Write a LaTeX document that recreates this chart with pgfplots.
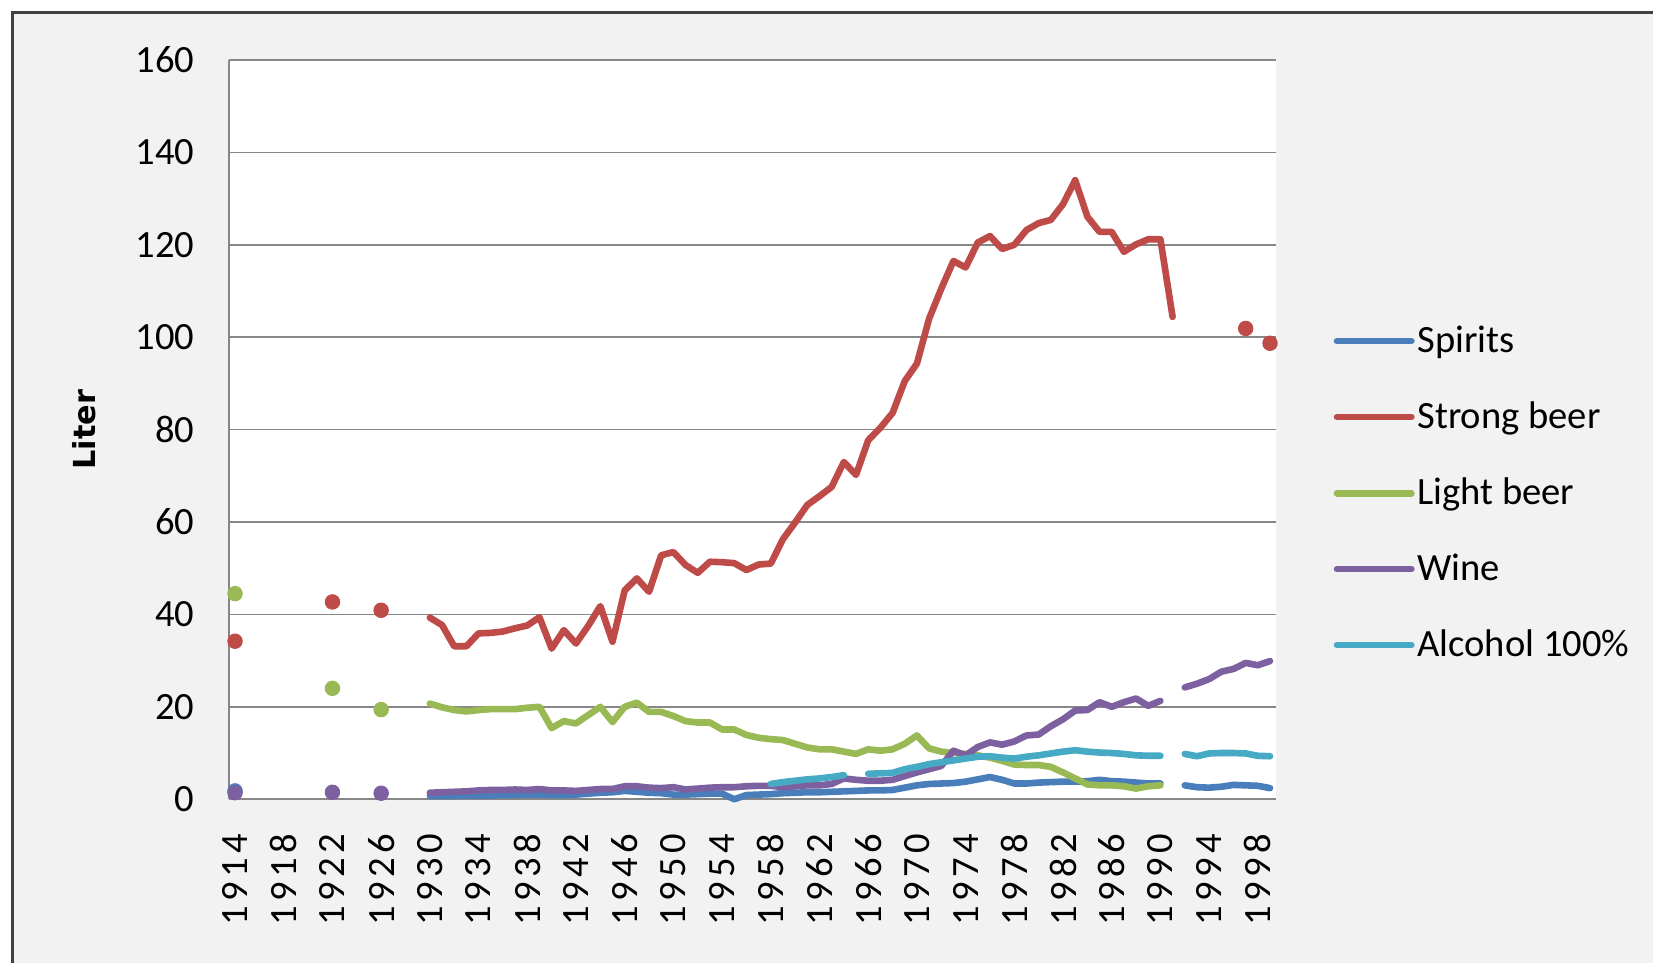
\documentclass[border=0pt]{standalone}
\usepackage{fontspec}
\setmainfont{Carlito}
\newfontfamily\labelfont{DejaVu Sans}
\newfontfamily\xfont[LetterSpace=12]{Carlito}
\usepackage{pgfplots}
\pgfplotsset{compat=1.18}
\definecolor{cSpirits}{HTML}{4A7EBB}
\definecolor{cStrong}{HTML}{BE4B48}
\definecolor{cLight}{HTML}{98B954}
\definecolor{cWine}{HTML}{7D60A0}
\definecolor{cAlc}{HTML}{46AAC5}
\definecolor{bgc}{HTML}{F2F2F2}
\definecolor{gridc}{HTML}{878787}
\definecolor{framec}{HTML}{404040}
\pgfplotsset{ser/.style={#1, no marks, line width=2.4pt, line join=round, line cap=round},
  dots/.style={#1, only marks, mark=*, mark size=2.6pt, forget plot}}
\begin{document}
\begin{tikzpicture}
\useasboundingbox (0,0) rectangle (600pt,349.6pt);
\fill[white] (0,0) rectangle (600pt,349.6pt);
\fill[bgc] (4.4pt,0) rectangle (600pt,345pt);
\draw[framec, line width=1.1pt] (4.4pt,0) -- (4.4pt,345pt) -- (600pt,345pt);
\begin{axis}[
  at={(83.1pt,59.5pt)}, anchor=south west,
  scale only axis, width=380.1pt, height=268.3pt,
  xmin=1913.5, xmax=1999.5, ymin=0, ymax=160,
  xtick={1914,1918,...,1998}, ytick={0,20,...,160},
  axis background/.style={fill=white},
  axis x line*=bottom, axis y line*=left,
  axis line style={gridc, line width=0.6pt},
  ymajorgrids, grid style={gridc, line width=0.6pt},
  major tick length=0pt,
  /pgf/number format/assume math mode=true,
  /pgf/number format/1000 sep={},
  tick label style={font=\fontsize{14}{16}\selectfont},
  xticklabel style={rotate=90, anchor=east, font=\xfont\fontsize{14}{16}\selectfont},
  xticklabel shift=9pt,
  yticklabel style={xshift=-9pt},
  ylabel={Liter},
  ylabel style={font=\labelfont\bfseries\fontsize{11}{12}\selectfont, at={(axis description cs:-0.1384,0.5)}, anchor=center},
  unbounded coords=jump,
  legend style={at={(1.055,0.414)}, anchor=west, draw=none, fill=none, font=\fontsize{14}{16}\selectfont, inner sep=0pt, outer sep=0pt, row sep=14.4pt, nodes={inner sep=1pt}},
  legend cell align=left,
  legend image code/.code={\draw[#1, line width=2.4pt] (0pt,0pt) -- (27pt,0pt);},
  clip=false,
]
% Spirits
\addplot[ser=cSpirits] coordinates {
(1930,0.7)(1931,0.7)(1932,0.7)(1933,0.8)(1934,0.8)(1935,0.8)(1936,0.9)(1937,0.9)(1938,1.0)(1939,1.0)
(1940,0.9)(1941,0.9)(1942,1.0)(1943,1.2)(1944,1.4)(1945,1.5)(1946,1.8)(1947,1.6)(1948,1.4)(1949,1.3)
(1950,1.0)(1951,1.0)(1952,1.1)(1953,1.2)(1954,1.2)(1955,0.0)(1956,0.9)(1957,1.0)(1958,1.1)(1959,1.3)
(1960,1.4)(1961,1.5)(1962,1.5)(1963,1.6)(1964,1.7)(1965,1.8)(1966,1.9)(1967,1.9)(1968,2.0)(1969,2.5)
(1970,3.0)(1971,3.3)(1972,3.4)(1973,3.5)(1974,3.8)(1975,4.3)(1976,4.8)(1977,4.2)(1978,3.4)(1979,3.4)
(1980,3.6)(1981,3.7)(1982,3.8)(1983,3.8)(1984,3.9)(1985,4.2)(1986,3.9)(1987,3.8)(1988,3.6)(1989,3.4)
(1990,3.4)(1991,nan)(1992,3.0)(1993,2.6)(1994,2.5)(1995,2.7)(1996,3.1)(1997,3.0)(1998,2.9)(1999,2.4)
};
\addlegendentry{Spirits}
\addplot[dots=cSpirits] coordinates {(1914,1.8)};
% Strong beer
\addplot[ser=cStrong] coordinates {
(1930,39.3)(1931,37.7)(1932,33.1)(1933,33.1)(1934,35.9)(1935,36.0)(1936,36.3)(1937,37.0)(1938,37.6)(1939,39.4)
(1940,32.6)(1941,36.6)(1942,33.7)(1943,37.5)(1944,41.8)(1945,34.1)(1946,45.2)(1947,47.8)(1948,44.9)(1949,52.8)
(1950,53.5)(1951,50.7)(1952,49.0)(1953,51.4)(1954,51.3)(1955,51.1)(1956,49.6)(1957,50.8)(1958,51.0)(1959,56.3)
(1960,59.9)(1961,63.7)(1962,65.6)(1963,67.6)(1964,73.0)(1965,70.2)(1966,77.7)(1967,80.4)(1968,83.6)(1969,90.5)
(1970,94.3)(1971,104.0)(1972,110.5)(1973,116.5)(1974,115.1)(1975,120.5)(1976,121.9)(1977,119.1)(1978,120.0)(1979,123.2)
(1980,124.7)(1981,125.4)(1982,128.8)(1983,134.0)(1984,126.1)(1985,122.8)(1986,122.8)(1987,118.5)(1988,120.1)(1989,121.2)
(1990,121.2)(1991,104.4)
};
\addlegendentry{Strong beer}
\addplot[dots=cStrong] coordinates {(1914,34.2)(1922,42.7)(1926,40.9)(1997,101.9)(1999,98.7)};
% Light beer
\addplot[ser=cLight] coordinates {
(1930,20.7)(1931,19.9)(1932,19.3)(1933,19.0)(1934,19.3)(1935,19.5)(1936,19.5)(1937,19.5)(1938,19.8)(1939,20.0)
(1940,15.4)(1941,16.9)(1942,16.4)(1943,18.2)(1944,20.0)(1945,16.7)(1946,20.0)(1947,20.9)(1948,18.9)(1949,18.9)
(1950,18.0)(1951,16.9)(1952,16.6)(1953,16.6)(1954,15.1)(1955,15.1)(1956,13.9)(1957,13.3)(1958,13.0)(1959,12.8)
(1960,12.0)(1961,11.2)(1962,10.8)(1963,10.8)(1964,10.3)(1965,9.8)(1966,10.8)(1967,10.5)(1968,10.8)(1969,12.0)
(1970,13.8)(1971,11.0)(1972,10.3)(1973,10.0)(1974,9.8)(1975,9.5)(1976,9.0)(1977,8.3)(1978,7.5)(1979,7.4)
(1980,7.4)(1981,7.0)(1982,5.8)(1983,4.5)(1984,3.2)(1985,3.0)(1986,3.0)(1987,2.8)(1988,2.3)(1989,2.8)
(1990,3.0)
};
\addlegendentry{Light beer}
\addplot[dots=cLight] coordinates {(1914,44.5)(1922,24.0)(1926,19.4)};
% Wine
\addplot[ser=cWine] coordinates {
(1930,1.4)(1931,1.5)(1932,1.6)(1933,1.7)(1934,1.9)(1935,2.0)(1936,2.0)(1937,2.1)(1938,2.0)(1939,2.2)
(1940,1.9)(1941,1.9)(1942,1.8)(1943,2.0)(1944,2.2)(1945,2.2)(1946,2.8)(1947,2.8)(1948,2.5)(1949,2.4)
(1950,2.6)(1951,2.1)(1952,2.3)(1953,2.5)(1954,2.6)(1955,2.6)(1956,2.8)(1957,2.9)(1958,2.9)(1959,2.6)
(1960,2.8)(1961,3.0)(1962,3.0)(1963,3.3)(1964,4.5)(1965,4.2)(1966,4.0)(1967,4.0)(1968,4.2)(1969,5.0)
(1970,5.8)(1971,6.5)(1972,7.2)(1973,10.5)(1974,9.5)(1975,11.3)(1976,12.3)(1977,11.8)(1978,12.5)(1979,13.8)
(1980,14.0)(1981,15.8)(1982,17.3)(1983,19.2)(1984,19.3)(1985,21.0)(1986,20.0)(1987,21.0)(1988,21.8)(1989,20.2)
(1990,21.3)(1991,nan)(1992,24.2)(1993,25.0)(1994,26.0)(1995,27.6)(1996,28.2)(1997,29.5)(1998,29.0)(1999,29.9)
};
\addlegendentry{Wine}
\addplot[dots=cWine] coordinates {(1914,1.4)(1922,1.5)(1926,1.3)};
% Alcohol 100%
\addplot[ser=cAlc] coordinates {
(1958,3.3)(1959,3.7)(1960,4.0)(1961,4.3)(1962,4.5)(1963,4.8)(1964,5.2)(1965,nan)(1966,5.5)(1967,5.6)
(1968,5.7)(1969,6.5)(1970,7.0)(1971,7.6)(1972,8.0)(1973,8.4)(1974,8.8)(1975,9.2)(1976,9.3)(1977,9.0)
(1978,8.8)(1979,9.2)(1980,9.5)(1981,9.9)(1982,10.3)(1983,10.6)(1984,10.3)(1985,10.1)(1986,10.0)(1987,9.8)
(1988,9.5)(1989,9.4)(1990,9.4)(1991,nan)(1992,9.8)(1993,9.3)(1994,9.9)(1995,10.0)(1996,10.0)(1997,9.9)
(1998,9.4)(1999,9.3)
};
\addlegendentry{Alcohol 100\%}
\end{axis}
\end{tikzpicture}
\end{document}
